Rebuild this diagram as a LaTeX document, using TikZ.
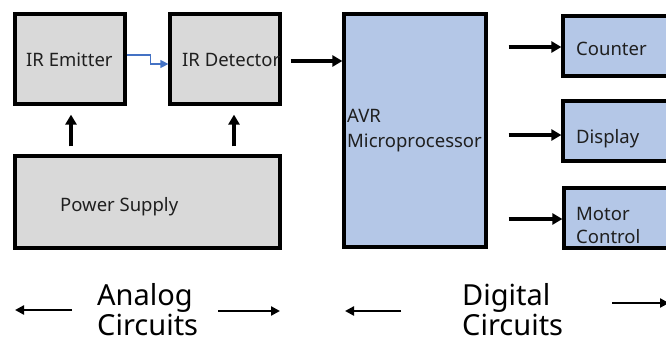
\documentclass[tikz,border=0pt]{standalone}
\usepackage{fontspec}
\setmainfont{Noto Sans}
\usetikzlibrary{arrows.meta}
\definecolor{boxgray}{HTML}{D9D9D9}
\definecolor{boxblue}{HTML}{B4C7E7}
\definecolor{linkblue}{HTML}{4472C4}
\definecolor{txt}{HTML}{1F1F1F}
\tikzset{
  gbox/.style={draw=black, line width=3.2pt, fill=boxgray, inner sep=0pt},
  bbox/.style={draw=black, line width=3.2pt, fill=boxblue, inner sep=0pt},
  lbl/.style={anchor=base west, inner sep=0pt, text=txt, font=\fontsize{18.5pt}{24pt}\selectfont},
  big/.style={anchor=base west, inner sep=0pt, text=black, font=\fontsize{29pt}{31pt}\selectfont},
  arr/.style={line width=3.4pt, -{Triangle[length=10pt,width=11pt]}},
  barr/.style={line width=2.4pt, -{Triangle[length=9pt,width=9pt]}},
  blink/.style={draw=linkblue, line width=1.2pt, -{Triangle[length=8pt,width=8pt]}}
}
\begin{document}
\begin{tikzpicture}[x=1pt,y=-1pt]
\useasboundingbox (0,0) rectangle (666,343);
\clip (0,0) rectangle (666,343);
% boxes
\node[gbox, minimum width=110pt, minimum height=90pt] (emit) at (70,59) {};
\node[gbox, minimum width=110pt, minimum height=90pt] (det) at (225,59) {};
\node[gbox, minimum width=265pt, minimum height=92pt] (power) at (147.5,202) {};
\node[bbox, minimum width=142pt, minimum height=233pt] (avr) at (415,130.5) {};
\node[bbox, minimum width=138pt, minimum height=60pt] (counter) at (632,46) {};
\node[bbox, minimum width=138pt, minimum height=60pt] (display) at (632,131) {};
\node[bbox, minimum width=137pt, minimum height=60pt] (motor) at (632.5,218) {};
% labels
\node[lbl] (temit) at (26,66) {IR Emitter};
\node[lbl] (tdet) at (182,66) {IR Detector};
\node[lbl] (tpower) at (60,211) {Power Supply};
\node[lbl] (tavr1) at (347,122) {AVR};
\node[lbl] (tavr2) at (347,147) {Microprocessor};
\node[lbl] (tcounter) at (576,55) {Counter};
\node[lbl] (tdisplay) at (576,143) {Display};
\node[lbl] (tmotor1) at (576,220) {Motor};
\node[lbl] (tmotor2) at (576,243) {Control};
% connectors
\draw[blink] ([yshift=4pt]emit.east) -- ++(24,0) |- ([yshift=-5pt]det.west);
\draw[arr, shorten <=9pt] ([yshift=-2pt]det.east) -- ([yshift=-2pt]avr.west |- det.east);
\draw[arr, shorten <=8pt, shorten >=9pt] ([xshift=1pt]emit.south |- power.north) -- ([xshift=1pt]emit.south);
\draw[arr, shorten <=8pt, shorten >=9pt] ([xshift=9pt]det.south |- power.north) -- ([xshift=9pt]det.south);
\draw[arr, shorten <=21pt] ([yshift=-1pt]avr.east |- counter.west) -- ([yshift=-1pt]counter.west);
\draw[arr, shorten <=21pt] ([yshift=-4pt]avr.east |- display.west) -- ([yshift=-4pt]display.west);
\draw[arr, shorten <=21pt] ([yshift=-1pt]avr.east |- motor.west) -- ([yshift=-1pt]motor.west);
% bottom captions
\node[big] (ana1) at (97,305) {Analog};
\node[big] (ana2) at (97,335) {Circuits};
\node[big] (dig1) at (462,305) {Digital};
\node[big] (dig2) at (462,335) {Circuits};
\coordinate (a1s) at (72,310); \coordinate (a1e) at (15,310);
\coordinate (a2s) at (218,311); \coordinate (a2e) at (280,311);
\coordinate (d1s) at (401,311); \coordinate (d1e) at (345,311);
\coordinate (d2s) at (612,303); \coordinate (d2e) at (669,303);
\draw[barr] (a1s) -- (a1e);
\draw[barr] (a2s) -- (a2e);
\draw[barr] (d1s) -- (d1e);
\draw[barr] (d2s) -- (d2e);
\end{tikzpicture}
\end{document}
